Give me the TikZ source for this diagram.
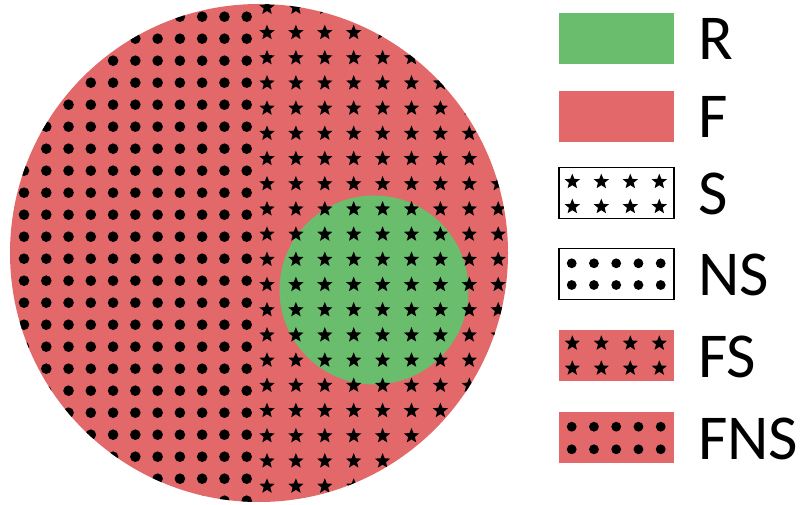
\documentclass[tikz,border=0pt]{standalone}
\usepackage{fontspec}
\setmainfont{Carlito}
\definecolor{rgreen}{RGB}{106,189,109}
\definecolor{fred}{RGB}{226,104,106}
\newcommand\mystar[2]{\fill ({#1},{#2}) +(-90:8) -- +(-54:3.5) -- +(-18:8) -- +(18:3.5) -- +(54:8) -- +(90:3.5) -- +(126:8) -- +(162:3.5) -- +(198:8) -- +(234:3.5) -- cycle;}
\tikzset{
  legbox/.style={minimum width=115pt, minimum height=51pt, inner sep=0pt, outer sep=0pt, anchor=north west},
  framed/.style={legbox, draw=black, line width=1.2pt, fill=white},
  lab/.style={inner sep=0pt, anchor=base west, font=\fontsize{64}{70}\selectfont}
}
\begin{document}
\begin{tikzpicture}[x=1pt,y=-1pt]
\useasboundingbox (0,0) rectangle (800,505);
% main circles
\fill[fred] (259,253) circle[radius=249];
\fill[rgreen] (374,290) circle[radius=94.5];
% dots (left half)
\begin{scope}
\clip (259,253) circle[radius=249];
\clip (0,0) rectangle (255,505);
\foreach \i in {0,...,10} {\foreach \j in {0,...,22} {
  \fill ({24+22.27*\i},{16.7+22*\j}) circle[radius=5.3];}}
\end{scope}
% stars (right half)
\begin{scope}
\clip (259,253) circle[radius=249];
\clip (255,0) rectangle (520,505);
\foreach \i in {0,...,8} {\foreach \j in {0,...,19} {
  \mystar{267+28.9*\i}{7.5+25.2*\j}}}
\end{scope}
% legend boxes
\node[legbox, fill=rgreen] (legR) at (559,12.7) {};
\node[legbox, fill=fred] (legF) at (559,90.7) {};
\node[framed] (legS) at (559,167.5) {};
\node[framed] (legNS) at (559,248.3) {};
\node[legbox, fill=fred] (legFS) at (559,330) {};
\node[legbox, fill=fred] (legFNS) at (559,412.3) {};
% legend patterns
\foreach \i in {0,...,3} {
  \mystar{572.3+29*\i}{181.7}
  \mystar{572.3+29*\i}{206.7}
  \mystar{572.3+29*\i}{343.3}
  \mystar{572.3+29*\i}{368.3}
}
\foreach \i in {0,...,4} {
  \fill ({571.7+22.25*\i},263.3) circle[radius=4.9];
  \fill ({571.7+22.25*\i},285) circle[radius=4.9];
  \fill ({571.7+22.25*\i},426.7) circle[radius=4.9];
  \fill ({571.7+22.25*\i},449.3) circle[radius=4.9];
}
% labels
\node[lab] (labR) at (698,59.5) {R};
\node[lab] (labF) at (698,137.7) {F};
\node[lab] (labS) at (698,214.4) {S};
\node[lab] (labNS) at (698,295.1) {NS};
\node[lab] (labFS) at (698,377) {FS};
\node[lab] (labFNS) at (698,459.2) {FNS};
\end{tikzpicture}
\end{document}
